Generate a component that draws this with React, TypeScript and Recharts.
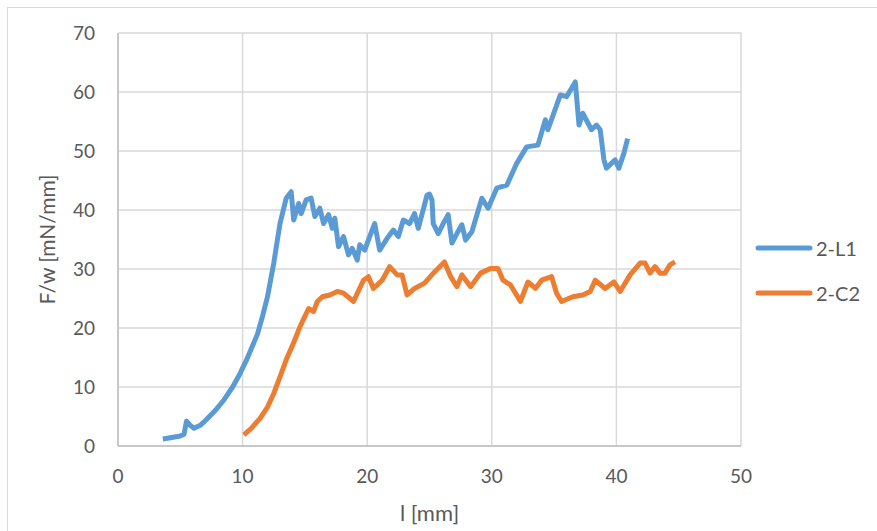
import { CartesianGrid, Legend, Line, LineChart, XAxis, YAxis } from 'recharts'

// 2-L1 peel curve, l in mm vs F/w in mN/mm
const l1X = [
  3.6, 4.2, 5.0, 5.3, 5.5, 5.8, 6.1, 6.6, 7.1, 7.8,
  8.5, 9.2, 9.8, 10.3, 10.8, 11.2, 11.6, 12.0, 12.5, 13.0,
  13.5, 13.9, 14.1, 14.5, 14.7, 15.1, 15.5, 15.8, 16.2, 16.5,
  16.9, 17.2, 17.4, 17.7, 18.1, 18.5, 18.8, 19.2, 19.4, 19.8,
  20.2, 20.6, 21.0, 21.6, 22.1, 22.5, 22.9, 23.4, 23.8, 24.1,
  24.8, 25.0, 25.2, 25.3, 25.7, 26.1, 26.5, 26.8, 27.2, 27.6,
  27.9, 28.4, 29.2, 29.7, 30.4, 31.2, 32.0, 32.8, 33.7, 34.3,
  34.5, 35.5, 36.0, 36.7, 37.0, 37.3, 38.0, 38.4, 38.7, 39.0,
  39.2, 39.9, 40.2, 40.6, 40.9,
]
const l1Y = [
  1.2, 1.4, 1.7, 2.0, 4.2, 3.5, 3.0, 3.5, 4.5, 6.0,
  7.8, 10.0, 12.3, 14.5, 17.0, 19.0, 22.0, 25.3, 31.0, 37.7,
  42.0, 43.1, 38.3, 41.1, 39.4, 41.7, 42.0, 38.9, 40.3, 37.7,
  39.2, 36.9, 38.6, 33.8, 35.5, 32.4, 33.5, 31.5, 34.1, 33.2,
  35.5, 37.7, 33.2, 35.2, 36.6, 35.5, 38.3, 37.7, 39.4, 36.9,
  42.5, 42.7, 41.7, 37.7, 36.0, 37.7, 39.2, 34.4, 36.0, 37.5,
  34.9, 36.3, 42.0, 40.3, 43.7, 44.2, 47.9, 50.7, 51.0, 55.3,
  53.6, 59.5, 59.2, 61.7, 54.4, 56.4, 53.6, 54.4, 53.6, 48.5,
  47.1, 48.5, 47.1, 49.6, 52.1,
]

// 2-C2 peel curve
const c2X = [
  10.1, 10.7, 11.4, 12.0, 12.5, 13.0, 13.5, 14.1, 14.6, 15.3,
  15.7, 16.0, 16.4, 17.0, 17.6, 18.1, 18.9, 19.7, 20.1, 20.5,
  21.2, 21.8, 22.4, 22.8, 23.2, 23.8, 24.6, 25.4, 26.2, 26.7,
  27.2, 27.6, 28.3, 29.1, 29.9, 30.5, 30.9, 31.5, 32.3, 32.9,
  33.5, 34.0, 34.8, 35.2, 35.6, 36.5, 37.3, 37.9, 38.3, 39.1,
  39.8, 40.3, 41.1, 41.9, 42.3, 42.7, 43.1, 43.5, 43.9, 44.3, 44.7,
]
const c2Y = [
  1.9, 3.0, 4.7, 6.6, 8.9, 11.7, 14.6, 17.5, 20.2, 23.3,
  22.8, 24.5, 25.3, 25.6, 26.2, 25.9, 24.5, 28.1, 28.7, 26.7,
  28.1, 30.4, 29.0, 29.0, 25.6, 26.7, 27.6, 29.5, 31.2, 28.7,
  27.0, 29.0, 27.0, 29.3, 30.1, 30.1, 28.1, 27.3, 24.5, 27.8,
  26.7, 28.1, 28.7, 25.9, 24.5, 25.3, 25.6, 26.2, 28.1, 26.7,
  27.8, 26.2, 29.0, 31.0, 31.0, 29.3, 30.4, 29.3, 29.3, 30.7, 31.2,
]

const seriesNames = ['2-L1', '2-C2']
const xTicks = [0, 10, 20, 30, 40, 50]
const yTicks = [0, 10, 20, 30, 40, 50, 60, 70]

const toPoints = (xs: number[], ys: number[]) => xs.map((x, i) => ({ x, y: ys[i] }))
const l1Data = toPoints(l1X, l1Y)
const c2Data = toPoints(c2X, c2Y)

const FONT = 'Lato, "Open Sans", sans-serif'
const TEXT = '#595959'
const LINE_W = 5

// keep the legend in series order instead of Recharts' alphabetical sort
function LegendBox({ payload }: any) {
  const items = [...(payload ?? [])].sort(
    (a: any, b: any) => seriesNames.indexOf(a.value) - seriesNames.indexOf(b.value),
  )
  return (
    <div style={{ fontFamily: FONT }}>
      {items.map((entry: any) => (
        <div key={entry.value} style={{ display: 'flex', alignItems: 'center', height: 45 }}>
          <svg width={58} height={8}>
            <line x1={3} y1={4} x2={55} y2={4} stroke={entry.color} strokeWidth={LINE_W} strokeLinecap="round" />
          </svg>
          <span style={{ marginLeft: 3, fontSize: 20, color: TEXT }}>{entry.value}</span>
        </div>
      ))}
    </div>
  )
}

export default function App() {
  return (
    <div style={{ position: 'absolute', left: 0, top: 0, width: 877, height: 531, overflow: 'hidden', background: '#fff' }}>
      <div
        style={{
          position: 'absolute',
          left: 7,
          top: 7,
          width: 900,
          height: 560,
          border: '1px solid #d9d9d9',
        }}
      />
      <div style={{ position: 'absolute', left: 0, top: 0 }}>
        <LineChart width={877} height={531} margin={{ top: 33, right: 136, bottom: 5, left: 0 }} style={{ fontFamily: FONT }}>
          <CartesianGrid stroke="#d9d9d9" strokeWidth={1.5} />
          <XAxis
            type="number"
            dataKey="x"
            domain={[0, 50]}
            ticks={xTicks}
            height={80}
            tickSize={0}
            tickMargin={24}
            axisLine={{ stroke: '#bfbfbf', strokeWidth: 1.5 }}
            tick={{ fill: TEXT, fontSize: 19 }}
            label={{ value: 'l [mm]', position: 'insideBottom', offset: 5, fill: TEXT, fontSize: 22 }}
          />
          <YAxis
            type="number"
            domain={[0, 70]}
            ticks={yTicks}
            width={118}
            tickSize={0}
            tickMargin={23}
            axisLine={{ stroke: '#bfbfbf', strokeWidth: 1.5 }}
            tick={{ fill: TEXT, fontSize: 19 }}
            label={{
              value: 'F/w [mN/mm]',
              angle: -90,
              position: 'insideLeft',
              offset: 48,
              fill: TEXT,
              fontSize: 21,
              style: { textAnchor: 'middle' },
            }}
          />
          <Legend
            layout="vertical"
            align="center"
            verticalAlign="middle"
            content={LegendBox}
            wrapperStyle={{ left: 755, top: 225, width: 120 }}
          />
          <Line
            data={l1Data}
            dataKey="y"
            name="2-L1"
            type="linear"
            stroke="#5b9bd5"
            strokeWidth={LINE_W}
            strokeLinejoin="round"
            dot={false}
            isAnimationActive={false}
          />
          <Line
            data={c2Data}
            dataKey="y"
            name="2-C2"
            type="linear"
            stroke="#ed7d31"
            strokeWidth={LINE_W}
            strokeLinejoin="round"
            dot={false}
            isAnimationActive={false}
          />
        </LineChart>
      </div>
    </div>
  )
}
